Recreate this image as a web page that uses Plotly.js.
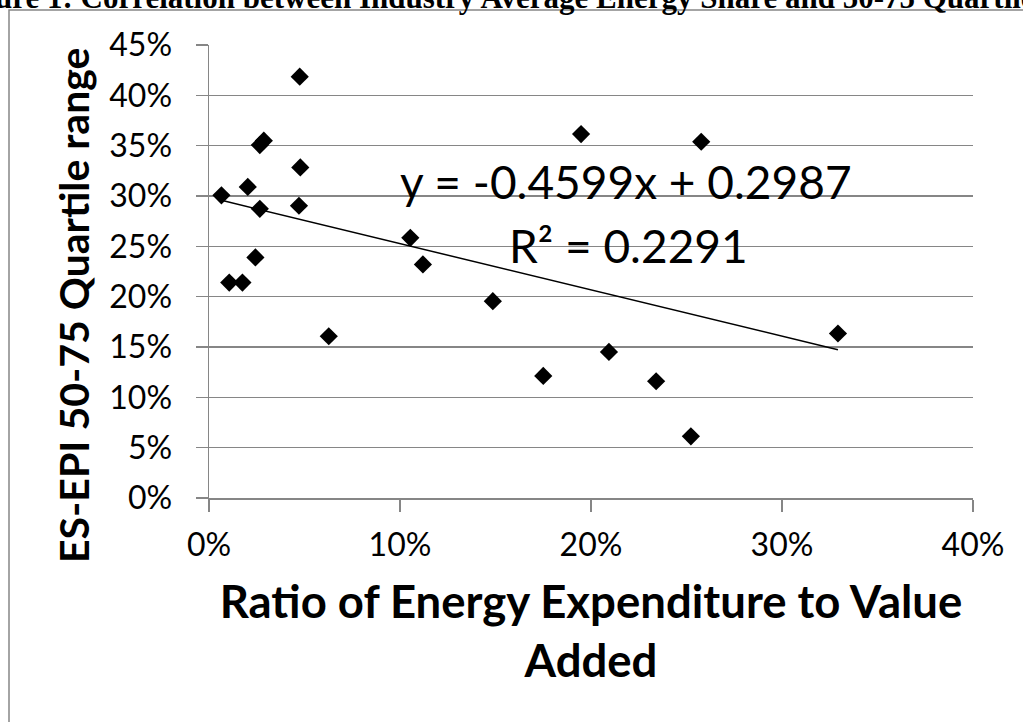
<!DOCTYPE html>
<html>
<head>
<meta charset="utf-8">
<script src="https://cdn.plot.ly/plotly-3.0.1.min.js"></script>
<style>
  html, body { margin: 0; padding: 0; background: #ffffff; }
  #chart { width: 1023px; height: 722px; }
</style>
</head>
<body>
<div id="chart"></div>
<script>
// Ratio of energy expenditure to value added (x) and ES-EPI 50-75 quartile range (y)
const energyRatio = [0.0065, 0.0106, 0.0175, 0.0203, 0.0243, 0.0266, 0.0266, 0.0287, 0.0471, 0.0475, 0.0478,
                     0.0627, 0.1054, 0.1120, 0.1486, 0.1750, 0.1948, 0.2094, 0.2341, 0.2523, 0.2577, 0.3293];
const quartileRange = [0.3007, 0.2140, 0.2140, 0.3090, 0.2390, 0.2873, 0.3506, 0.3550, 0.2903, 0.4185, 0.3284,
                       0.1607, 0.2585, 0.2320, 0.1955, 0.1213, 0.3615, 0.1451, 0.1160, 0.0613, 0.3539, 0.1634];
const trendSlope = -0.4599;
const trendIntercept = 0.2987;
const rSquared = 0.2291;
const xTicks = [0, 0.1, 0.2, 0.3, 0.4];
const yTicks = [0, 0.05, 0.10, 0.15, 0.20, 0.25, 0.30, 0.35, 0.40, 0.45];
const chartTitle = "Figure 1: Correlation between Industry Average Energy Share and 50-75 Quartile Range";
const xTitle = "Ratio of Energy Expenditure to Value<br>Added";
const yTitle = "ES-EPI 50-75 Quartile range";

const xMin = Math.min(...energyRatio);
const xMax = Math.max(...energyRatio);
const trendX = [xMin, xMax];
const trendY = trendX.map(v => trendSlope * v + trendIntercept);

const grey = '#868686';
const W = 1023, H = 722;
const M = {l: 209, r: 50, t: 45, b: 224};
const pw = W - M.l - M.r, ph = H - M.t - M.b;
const px2paperX = p => (p - M.l) / pw;
const px2paperY = p => (H - M.b - p) / ph;

const traces = [
  {
    x: energyRatio, y: quartileRange, type: 'scatter', mode: 'markers',
    marker: {symbol: 'diamond', size: 14, color: '#000000', line: {width: 0}},
    hoverinfo: 'x+y', showlegend: false
  },
  {
    x: trendX, y: trendY, type: 'scatter', mode: 'lines',
    line: {color: '#000000', width: 1.5}, hoverinfo: 'skip', showlegend: false
  }
];

const sans = 'Lato, "Open Sans", sans-serif';
const tickFont = {family: sans, size: 32, color: '#000000'};

const layout = {
  width: W, height: H,
  margin: M,
  paper_bgcolor: '#ffffff', plot_bgcolor: '#ffffff',
  showlegend: false,
  xaxis: {
    range: [0, 0.4], tickvals: xTicks, tickformat: '.0%',
    showgrid: false, zeroline: false,
    showline: true, linecolor: grey, linewidth: 1.5,
    ticks: 'outside', ticklen: 12, tickwidth: 1.5, tickcolor: grey,
    tickfont: tickFont, ticklabelstandoff: 6,
    title: {text: xTitle, font: {family: sans, size: 45.5, color: '#000000', weight: 'bold'}, standoff: 24},
    automargin: false, fixedrange: true
  },
  yaxis: {
    range: [0, 0.45], tickvals: yTicks, tickformat: '.0%',
    showgrid: true, gridcolor: grey, gridwidth: 1.5, zeroline: false,
    showline: true, linecolor: grey, linewidth: 1.5,
    ticks: 'outside', ticklen: 12, tickwidth: 1.5, tickcolor: grey,
    tickfont: tickFont, ticklabelstandoff: 17,
    automargin: false, fixedrange: true
  },
  shapes: [
    {type: 'rect', xref: 'paper', yref: 'paper',
     x0: px2paperX(9), x1: px2paperX(1100), y0: px2paperY(800), y1: px2paperY(10),
     line: {color: grey, width: 1.5}, fillcolor: 'rgba(0,0,0,0)', layer: 'below'}
  ],
  annotations: [
    {text: yTitle, textangle: -90,
     xref: 'paper', yref: 'paper', x: px2paperX(73), y: px2paperY(306),
     xanchor: 'center', yanchor: 'middle', showarrow: false,
     font: {family: sans, size: 41, color: '#000000', weight: 'bold'}},
    {text: 'y = ' + trendSlope.toFixed(4) + 'x + ' + trendIntercept.toFixed(4),
     xref: 'paper', yref: 'paper', x: px2paperX(626), y: px2paperY(181),
     xanchor: 'center', yanchor: 'middle', showarrow: false,
     font: {family: sans, size: 46, color: '#000000'}},
    {text: 'R² = ' + rSquared.toFixed(4),
     xref: 'paper', yref: 'paper', x: px2paperX(628), y: px2paperY(245),
     xanchor: 'center', yanchor: 'middle', showarrow: false,
     font: {family: sans, size: 46, color: '#000000'}},
    {text: chartTitle,
     xref: 'paper', yref: 'paper', x: px2paperX(-50), y: px2paperY(17),
     xanchor: 'left', yanchor: 'bottom', showarrow: false,
     font: {family: '"Liberation Serif", "Times New Roman", serif', size: 31, color: '#000000', weight: 'bold'}}
  ]
};

Plotly.newPlot('chart', traces, layout, {displayModeBar: false, staticPlot: true});
</script>
</body>
</html>
